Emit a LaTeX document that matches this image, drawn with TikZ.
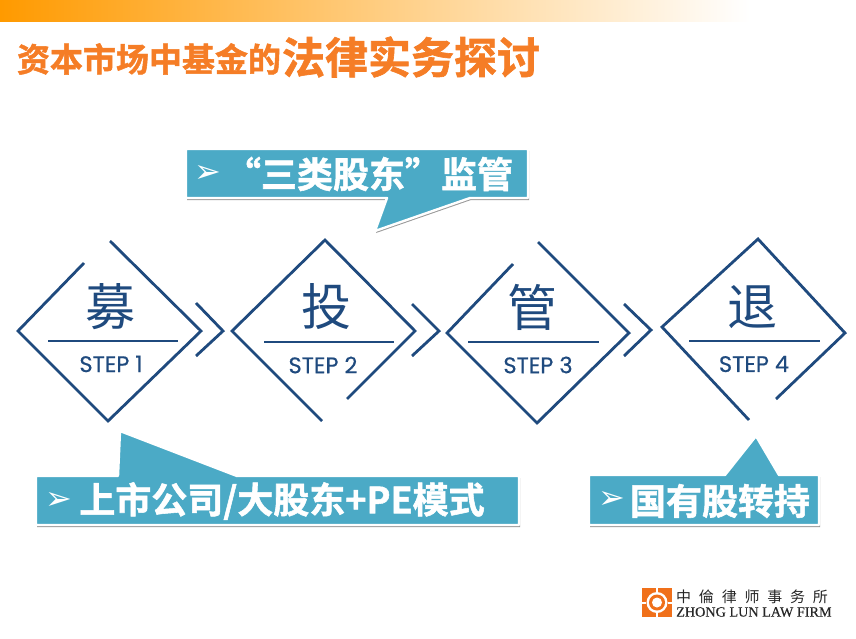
\documentclass[tikz,border=0pt]{standalone}
\usepackage{fontspec}
\usetikzlibrary{shadows}
\newfontfamily\cjk{Noto Sans CJK SC}
\newfontfamily\cjkheavy[FakeBold=1.5]{Noto Sans CJK SC Bold}
\newfontfamily\cjkwide[LetterSpace=52]{Noto Sans CJK SC}
\newfontfamily\stepfont[FakeBold=0.5]{Poppins}
\newfontfamily\markfont{DejaVu Sans}
\newfontfamily\firmfont[FakeBold=0.4]{Liberation Serif}
\definecolor{navy}{HTML}{1F4A7E}
\definecolor{teal}{HTML}{4BAAC6}
\definecolor{titleorange}{HTML}{F57D26}
\definecolor{bandorange}{HTML}{FF9A00}
\definecolor{logoorange}{HTML}{F0701A}
\begin{document}
\begin{tikzpicture}[x=1pt,y=-1pt,
  rim/.style={navy,line width=2.8pt,line join=miter},
  big char/.style={navy,font=\cjk\fontsize{50}{50}\selectfont},
  step label/.style={navy,font=\stepfont\fontsize{22.5}{22.5}\selectfont},
  callout/.style={fill=teal,draw=white,line width=2.4pt,line join=round,drop shadow={shadow xshift=1pt,shadow yshift=-2pt,fill=black,opacity=0.4}},
  callout text/.style={white,font=\cjkheavy\fontsize{36}{36}\selectfont,inner sep=0pt},
  mark text/.style={white,font=\markfont\fontsize{32}{32}\selectfont,inner sep=0pt}]
  \useasboundingbox (0,0) rectangle (856,639);
  \shade[left color=bandorange,right color=white] (0,0) rectangle (750,22);

  \node[titleorange,font=\cjkheavy\fontsize{33}{33}\selectfont,inner sep=0pt] (title1) at (149,59) {资本市场中基金的};
  \node[titleorange,font=\cjkheavy\fontsize{43}{43}\selectfont,inner sep=0pt] (title2) at (411,57) {法律实务探讨};

  \draw[rim] (84,263) -- (18,331) -- (108,421) -- (201,331) -- (110,241);
  \draw[rim] (48,341) -- (178,341);
  \draw[rim] (196,303) -- (223,331) -- (196,356);
  \node[big char] (mu) at (110,307) {募};
  \node[step label] (step1) at (111,364) {STEP 1};

  \draw[rim] (347,399) -- (415,331) -- (325,240) -- (232,331) -- (322,421);
  \draw[rim] (264,342) -- (394,342);
  \draw[rim] (412,304) -- (439,331) -- (412,356);
  \node[big char] (tou) at (326,307) {投};
  \node[step label] (step2) at (323,365) {STEP 2};

  \draw[rim] (513,264) -- (447,333) -- (537,423) -- (629,333) -- (538,242);
  \draw[rim] (468,342) -- (599,342);
  \draw[rim] (624,304) -- (651,330) -- (624,356);
  \node[big char] (guan) at (532,307) {管};
  \node[step label] (step3) at (538,365) {STEP 3};

  \draw[rim] (776,399) -- (845,333) -- (758,239) -- (662,327) -- (749,420);
  \draw[rim] (689,341) -- (820,341);
  \node[big char] (tui) at (752,307) {退};
  \node[step label] (step4) at (754,364) {STEP 4};

  \draw[callout] (186,149) -- (528,149) -- (528,198) -- (470,198) -- (375,231) -- (387,198) -- (186,198) -- cycle;
  \node[mark text] (mark1) at (208,174) {➢};
  \node[callout text] (supervise) at (369,174) {“三类股东”监管};

  \draw[callout] (36,476) -- (118,476) -- (120,431) -- (237,476) -- (519,476) -- (519,525) -- (36,525) -- cycle;
  \node[mark text] (mark2) at (59,501) {➢};
  \node[callout text] (listed) at (282,501) {上市公司/大股东+PE模式};

  \draw[callout] (589,475) -- (725,475) -- (756,436) -- (779,475) -- (819,475) -- (819,525) -- (589,525) -- cycle;
  \node[mark text] (mark3) at (612,500) {➢};
  \node[callout text] (state) at (720,501) {国有股转持};

  \fill[logoorange] (642,588) rectangle (672,617);
  \fill[white] (657,602.5) circle (10.5);
  \fill[logoorange] (657,602.5) circle (8);
  \fill[white] (657,602.5) circle (5);
  \fill[white] (656,588) rectangle (658,593);
  \fill[white] (656,612) rectangle (658,617);
  \fill[white] (642,601.5) rectangle (646,603.5);
  \fill[white] (668,601.5) rectangle (672,603.5);
  \node[font=\cjkwide\fontsize{15}{15}\selectfont,inner sep=0pt,anchor=west,black!85] (firmcn) at (676,597) {中倫律师事务所};
  \node[font=\firmfont\fontsize{14.2}{14.2}\selectfont,inner sep=0pt,anchor=west,black!85] (firmen) at (676,612) {ZHONG LUN LAW FIRM};
\end{tikzpicture}
\end{document}
